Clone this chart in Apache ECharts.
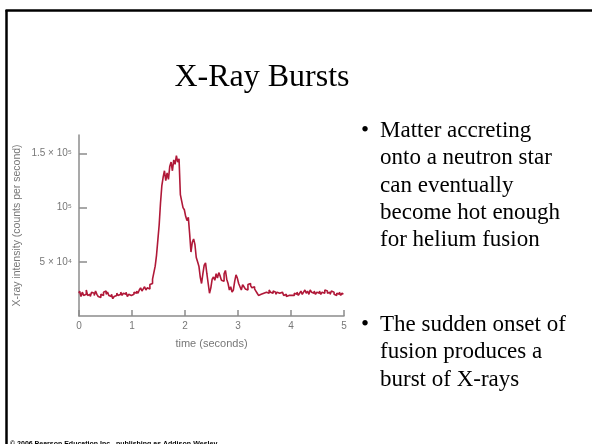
<!DOCTYPE html>
<html>
<head>
<meta charset="utf-8">
<script src="https://cdn.jsdelivr.net/npm/echarts@6/dist/echarts.min.js"></script>
<style>
html,body{margin:0;padding:0;background:#fff;}
#c{width:592px;height:444px;}
</style>
</head>
<body>
<div id="c"></div>
<script>
// Sample spacing (seconds) of the light curve
const timeStep = 0.025;
// X-ray intensity in units of 10^4 counts per second, one row per 0.5 s
const intensity = [
  2.1, 2.3, 1.8, 2.2, 1.9, 2.0, 2.4, 1.9, 2.0, 1.8, 2.2, 2.1, 1.9, 2.3, 2.0, 1.8, 1.7, 2.0, 1.9, 2.2,
  2.3, 2.0, 2.2, 1.9, 1.8, 2.0, 1.6, 1.8, 1.9, 2.1, 1.9, 2.0, 2.2, 1.9, 2.1, 2.0, 2.2, 1.8, 2.0, 1.9,
  1.8, 2.0, 2.2, 2.1, 2.3, 2.1, 2.4, 2.6, 2.3, 2.5, 2.7, 2.4, 2.6, 2.5, 2.9, 3.0, 3.4, 4.0, 4.6, 5.6,
  7.0, 8.4, 10.4, 12.0, 12.8, 13.4, 12.5, 13.2, 12.6, 13.8, 14.2, 13.4, 14.4, 14.0, 14.8, 14.2, 14.5, 11.2, 10.6, 10.0,
  9.8, 9.2, 8.8, 9.1, 7.6, 5.9, 6.8, 7.1, 6.6, 5.4, 5.0, 4.6, 3.6, 3.0, 3.9, 4.7, 4.9, 3.9, 3.0, 2.1,
  2.6, 3.4, 3.6, 3.3, 3.9, 3.5, 4.0, 3.7, 3.3, 3.2, 3.9, 4.2, 3.4, 3.0, 2.4, 2.7, 2.2, 2.4, 3.2, 3.8,
  3.5, 3.0, 2.7, 2.4, 2.9, 2.7, 2.5, 2.4, 2.9, 3.0, 2.8, 2.6, 2.7, 2.5, 2.3, 2.1, 1.9, 2.0, 1.9, 2.1,
  2.0, 2.2, 2.3, 2.1, 2.4, 2.2, 2.1, 2.3, 2.2, 2.0, 2.2, 2.1, 2.0, 2.2, 2.1, 1.9, 2.0, 1.8, 1.9, 1.8,
  1.9, 2.0, 1.9, 2.1, 2.0, 2.2, 1.9, 2.1, 2.3, 2.0, 2.2, 2.4, 2.1, 2.3, 2.0, 2.4, 2.2, 2.1, 2.3, 2.0,
  2.2, 2.1, 2.3, 2.0, 2.2, 2.1, 2.4, 2.3, 2.1, 2.2, 2.0, 2.3, 2.2, 2.0, 1.9, 2.1, 2.0, 2.2, 1.9, 2.1, 2.0
];
const yTickValues = [50000, 100000, 150000];
const yTickLabels = {50000: '5 × 10⁴', 100000: '10⁵', 150000: '1.5 × 10⁵'};
const xTickLabels = ['0', '1', '2', '3', '4', '5'];
const titleText = 'X-Ray Bursts';
const bullet1 = ['Matter accreting', 'onto a neutron star', 'can eventually', 'become hot enough', 'for helium fusion'];
const bullet2 = ['The sudden onset of', 'fusion produces a', 'burst of X-rays'];
const footerText = '© 2006 Pearson Education Inc., publishing as Addison-Wesley';

const points = intensity.map((v, i) => [+(i * timeStep).toFixed(3), v * 10000]);

const serif = '"Liberation Serif", "DejaVu Serif", serif';
const sans = '"Liberation Sans", Arial, sans-serif';
const axisGray = '#8c8c8c';
const labelGray = '#777777';

const graphics = [
  {type: 'line', shape: {x1: 6.5, y1: 10, x2: 6.5, y2: 444}, style: {stroke: '#000', lineWidth: 2.5}},
  {type: 'line', shape: {x1: 5.5, y1: 10.5, x2: 592, y2: 10.5}, style: {stroke: '#000', lineWidth: 2.5}},
  {type: 'text', x: 262, y: 94, style: {text: titleText, font: '32px ' + serif, fill: '#000', textAlign: 'center', textVerticalAlign: 'bottom'}},
  {type: 'text', x: 10, y: 440.5, style: {text: footerText, font: 'bold 7px ' + sans, fill: '#000', textAlign: 'left', textVerticalAlign: 'top'}}
];
function addBullet(lines, baseline0) {
  graphics.push({type: 'text', x: 361, y: baseline0, style: {text: '•', font: '23px ' + serif, fill: '#000', textVerticalAlign: 'bottom'}});
  lines.forEach((t, i) => {
    graphics.push({type: 'text', x: 380, y: baseline0 + i * 27.3, style: {text: t, font: '23px ' + serif, fill: '#000', textVerticalAlign: 'bottom'}});
  });
}
addBullet(bullet1, 142.5);
addBullet(bullet2, 336.5);

const chart = echarts.init(document.getElementById('c'), null, {renderer: 'canvas'});
chart.setOption({
  animation: false,
  backgroundColor: '#fff',
  grid: {left: 79, right: 248, top: 135, bottom: 128, containLabel: false},
  xAxis: {
    type: 'value', min: 0, max: 5, interval: 1,
    name: 'time (seconds)', nameLocation: 'middle', nameGap: 22,
    nameTextStyle: {color: labelGray, fontSize: 11, fontFamily: sans},
    axisLine: {show: true, lineStyle: {color: axisGray, width: 1.5}},
    axisTick: {show: true, inside: true, length: 6, lineStyle: {color: axisGray, width: 1.5}},
    axisLabel: {color: labelGray, fontSize: 10, fontFamily: sans, margin: 5, formatter: v => xTickLabels[Math.round(v)]},
    splitLine: {show: false}
  },
  yAxis: {
    type: 'value', min: 0, max: 167000,
    name: 'X-ray intensity (counts per second)', nameLocation: 'middle', nameGap: 56, nameRotate: 90,
    nameTextStyle: {color: labelGray, fontSize: 10.5, fontFamily: sans},
    axisLine: {show: true, lineStyle: {color: axisGray, width: 1.5}},
    axisTick: {show: true, inside: true, length: 8, customValues: yTickValues, lineStyle: {color: axisGray, width: 1.5}},
    axisLabel: {color: labelGray, fontSize: 10, fontFamily: sans, margin: 7, customValues: yTickValues, formatter: v => yTickLabels[v] || ''},
    splitLine: {show: false}
  },
  series: [{
    type: 'line', data: points, step: 'middle', showSymbol: false,
    lineStyle: {color: '#b01838', width: 1.6},
    clip: false
  }],
  graphic: graphics
});
</script>
</body>
</html>
